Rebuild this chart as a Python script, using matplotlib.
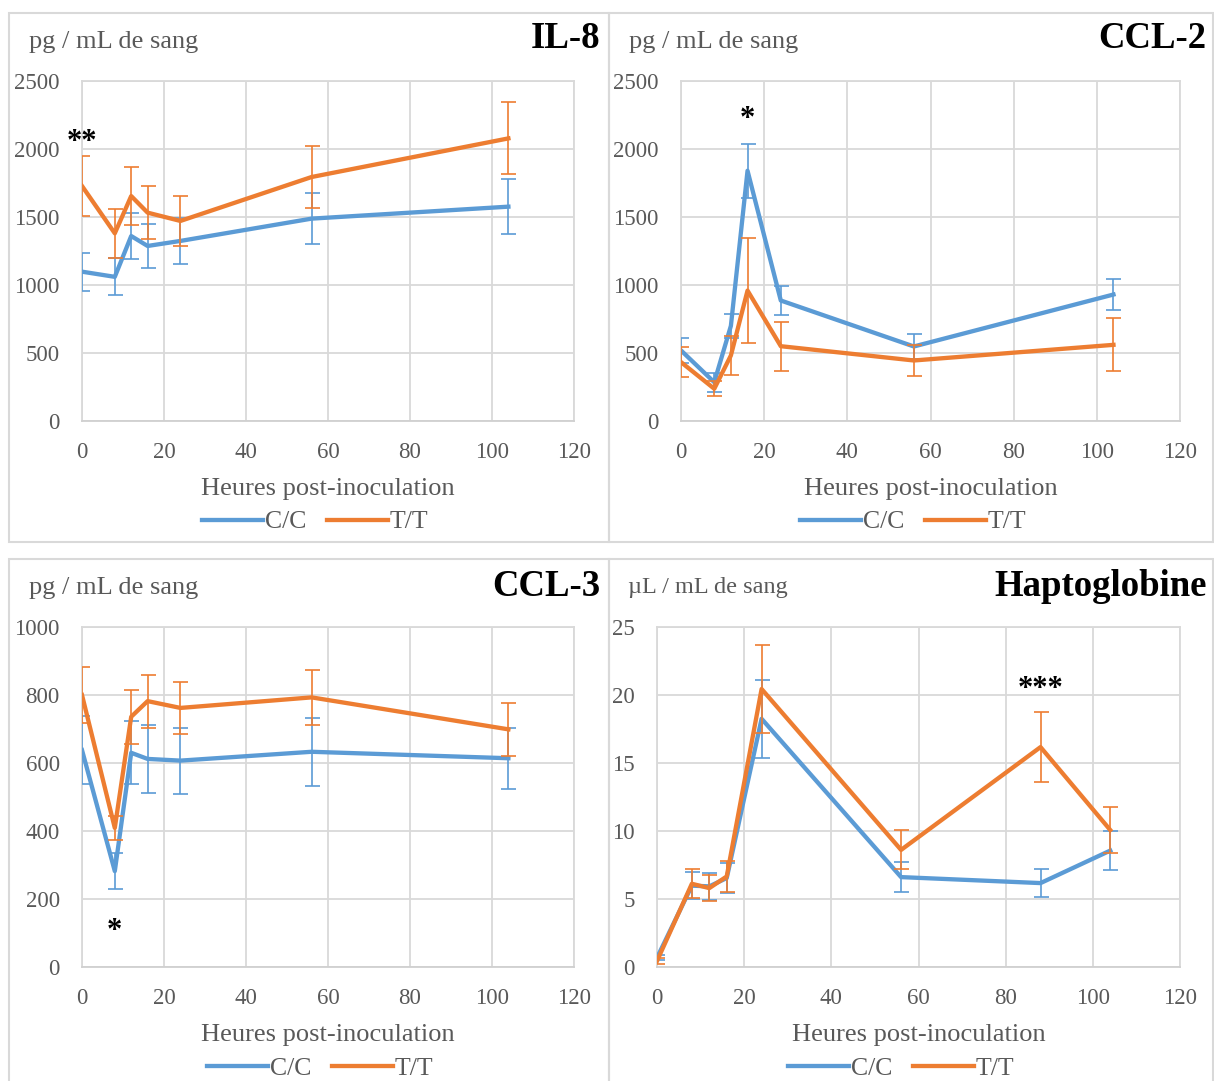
import matplotlib
matplotlib.use("Agg")
import matplotlib.pyplot as plt
from matplotlib.patches import Rectangle

# ---------------- data ----------------
hours = [0, 8, 12, 16, 24, 56, 104]
hapto_hours = [0, 8, 12, 16, 24, 56, 88, 104]

il8_cc = [1098, 1060, 1360, 1287, 1324, 1488, 1576]
il8_cc_err = [140, 135, 172, 163, 170, 188, 200]
il8_tt = [1728, 1380, 1654, 1532, 1471, 1794, 2078]
il8_tt_err = [220, 180, 210, 195, 186, 228, 265]

ccl2_cc = [519, 285, 700, 1840, 886, 548, 930]
ccl2_cc_err = [90, 70, 90, 200, 110, 90, 115]
ccl2_tt = [433, 237, 482, 959, 550, 445, 560]
ccl2_tt_err = [110, 55, 145, 385, 180, 115, 195]

ccl3_cc = [638, 282, 630, 612, 607, 633, 614]
ccl3_cc_err = [100, 52, 93, 99, 97, 100, 89]
ccl3_tt = [800, 409, 736, 782, 762, 793, 699]
ccl3_tt_err = [82, 36, 80, 78, 77, 80, 77]

hapto_cc = [0.68, 5.98, 5.93, 6.54, 18.25, 6.61, 6.17, 8.56]
hapto_cc_err = [0.2, 1.0, 1.0, 1.1, 2.85, 1.1, 1.05, 1.43]
hapto_tt = [0.44, 6.12, 5.80, 6.66, 20.44, 8.61, 16.17, 10.07]
hapto_tt_err = [0.2, 1.06, 0.97, 1.15, 3.2, 1.43, 2.56, 1.7]

series_labels = ["C/C", "T/T"]
titles = ["IL-8", "CCL-2", "CCL-3", "Haptoglobine"]
ylabels = ["pg / mL de sang", "pg / mL de sang", "pg / mL de sang", "\u00b5L / mL de sang"]
xlabel = "Heures post-inoculation"
xticks = [0, 20, 40, 60, 80, 100, 120]
yticks_list = [
    [0, 500, 1000, 1500, 2000, 2500],
    [0, 500, 1000, 1500, 2000, 2500],
    [0, 200, 400, 600, 800, 1000],
    [0, 5, 10, 15, 20, 25],
]
stars = [("**", 0, 2103), ("*", 16, 2272), ("*", 8, 126), ("***", 88, 20.9)]

# ---------------- style ----------------
W, H = 1214, 1081
BLUE = "#5B9BD5"
ORANGE = "#ED7D31"
GRID = "#D9D9D9"
TXT = "#595959"
plt.rcParams["font.family"] = ["Liberation Serif", "DejaVu Serif"]

fig = plt.figure(figsize=(W / 100, H / 100), dpi=100)
fig.patch.set_facecolor("white")


def fx(x):
    return x / W


def fy(y):
    return 1 - y / H


# panel frames
frames = [(9, 13, 609, 542), (609, 13, 1212.5, 542),
          (9, 559, 609, 1110), (609, 559, 1212.5, 1110)]
for (l, t, r, b) in frames:
    fig.add_artist(Rectangle((fx(l), fy(b)), (r - l) / W, (b - t) / H,
                             transform=fig.transFigure, fill=False,
                             ec=GRID, lw=1.5, zorder=0))

# axes (plot areas) in pixel coords l, t, r, b
areas = [(82, 81, 574, 421), (681, 81, 1180, 421),
         (82, 627, 574, 967), (657, 627, 1180, 967)]

data = [
    (hours, il8_cc, il8_cc_err, il8_tt, il8_tt_err),
    (hours, ccl2_cc, ccl2_cc_err, ccl2_tt, ccl2_tt_err),
    (hours, ccl3_cc, ccl3_cc_err, ccl3_tt, ccl3_tt_err),
    (hapto_hours, hapto_cc, hapto_cc_err, hapto_tt, hapto_tt_err),
]

ylabel_pos = [(29, 42, 19), (629, 42, 19), (29, 588, 19), (628, 587, 17.5)]
title_pos = [(600, 39), (1206, 39), (600, 586), (1207, 586)]
xlabel_y = [489, 489, 1035, 1035]
legend_pos = [(315, 522), (913, 522), (320, 1069), (901, 1069)]

for i, (l, t, r, b) in enumerate(areas):
    ax = fig.add_axes([fx(l), fy(b), (r - l) / W, (b - t) / H])
    x, cc, cce, tt, tte = data[i]
    yt = yticks_list[i]
    ax.set_xlim(0, 120)
    ax.set_ylim(yt[0], yt[-1])
    ax.set_xticks(xticks)
    ax.set_yticks(yt)
    ax.grid(True, color=GRID, lw=1.3)
    ax.set_axisbelow(True)
    for sp in ax.spines.values():
        sp.set_color(GRID)
        sp.set_linewidth(1.3)
    ax.spines["bottom"].set_color("#D0D0D0")
    ax.tick_params(length=0, labelsize=16.5, colors=TXT)
    ax.tick_params(axis="y", pad=16)
    ax.tick_params(axis="x", pad=15)

    l1, = ax.plot(x, cc, color=BLUE, lw=3.1, zorder=3, label=series_labels[0])
    ax.errorbar(x, cc, yerr=cce, fmt="none", ecolor=BLUE, elinewidth=1.2,
                capsize=5.4, capthick=1.2, zorder=3)
    l2, = ax.plot(x, tt, color=ORANGE, lw=3.1, zorder=4, label=series_labels[1])
    ax.errorbar(x, tt, yerr=tte, fmt="none", ecolor=ORANGE, elinewidth=1.2,
                capsize=5.4, capthick=1.2, zorder=4)

    s, sx, sy = stars[i]
    ax.annotate(s, xy=(sx, sy), xytext=(0, -10.5), textcoords="offset points",
                ha="center", va="baseline", fontsize=22, fontweight="bold",
                color="black", zorder=6, annotation_clip=False)

    yl = ylabel_pos[i]
    fig.text(fx(yl[0]), fy(yl[1]), ylabels[i], ha="left", va="center",
             fontsize=yl[2], color=TXT)
    tp = title_pos[i]
    fig.text(fx(tp[0]), fy(tp[1]), titles[i], ha="right", va="center",
             fontsize=26.5, fontweight="bold", color="black")
    fig.text(fx((l + r) / 2), fy(xlabel_y[i]), xlabel, ha="center", va="center",
             fontsize=19, color=TXT)
    lp = legend_pos[i]
    fig.legend(handles=[l1, l2], loc="center",
               bbox_to_anchor=(fx(lp[0]), fy(lp[1])), ncol=2, frameon=False,
               fontsize=18.5, handlelength=2.4, handletextpad=0.05,
               columnspacing=0.8, labelcolor=TXT, borderpad=0, borderaxespad=0)

fig.savefig("out.png", dpi=100, facecolor="white")
